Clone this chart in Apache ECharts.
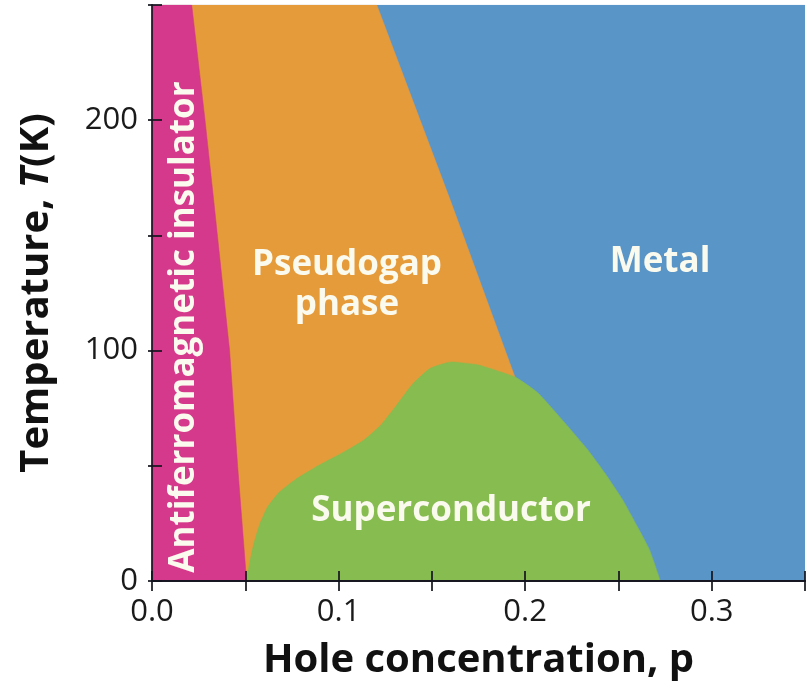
<!DOCTYPE html>
<html>
<head>
<meta charset="utf-8">
<script src="https://cdn.jsdelivr.net/npm/echarts@6/dist/echarts.min.js"></script>
<style>
html,body{margin:0;padding:0;background:#fff;}
#chart{width:808px;height:688px;}
</style>
</head>
<body>
<div id="chart"></div>
<script>
// ---- data (p = hole concentration, T in K) ----
const xTickLabels = ['0.0', '0.1', '0.2', '0.3'];
const yTickLabels = ['0', '100', '200'];

// whole plot region (metal fills everything behind)
const metalRegion = [[0, 250], [0.35, 250]];
// pseudogap / metal boundary (T* line)
const pseudogapBoundary = [[0, 250], [0.1205, 250], [0.1600, 165], [0.1925, 93], [0.2350, 0]];
// antiferromagnetic insulator boundary
const afBoundary = [[0, 250], [0.0213, 250], [0.0283, 201], [0.0331, 165], [0.0416, 100], [0.0459, 50], [0.0507, 0]];
// superconducting dome
const scDome = [
  [0.0507, 0], [0.0523, 7.8], [0.0544, 15.6], [0.0576, 24.3], [0.0619, 32.1],
  [0.0683, 38.6], [0.0773, 44.3], [0.0896, 50.3], [0.1029, 56.0], [0.1136, 61.2],
  [0.1227, 67.7], [0.1312, 76.4], [0.1397, 85.5], [0.1493, 92.4], [0.1605, 95.1],
  [0.1749, 93.8], [0.1947, 88.5], [0.2069, 81.6], [0.2213, 68.6], [0.2336, 56.9],
  [0.2427, 46.9], [0.2523, 35.2], [0.2603, 23.4], [0.2667, 13.5], [0.2725, 0]
];
const regionNames = ['Metal', 'Pseudogap phase', 'Antiferromagnetic insulator', 'Superconductor'];

// ---- styling ----
const C = { metal: '#5a95c8', pg: '#e69b3b', af: '#d5398b', sc: '#86bc50', txt: '#fbfaee' };
const axisCol = 'rgba(20,20,30,0.85)';
const tickFont = { fontFamily: 'Open Sans', fontSize: 31, color: '#1a1a1a' };

function areaSeries(name, data, color, smooth, z) {
  return {
    name: name, type: 'line', data: data, symbol: 'none', z: z,
    smooth: smooth,
    lineStyle: { width: 0.5, color: color },
    areaStyle: { color: color, opacity: 1 },
    silent: true, animation: false
  };
}

const chart = echarts.init(document.getElementById('chart'), null, { renderer: 'canvas' });

const regionFont = 'bold 35px "Open Sans"';

const option = {
  animation: false,
  grid: { left: 152, right: 0, top: 5, bottom: 107 },
  xAxis: [{
    type: 'value', min: 0, max: 0.35, interval: 0.05, z: 10,
    name: 'Hole concentration, p', nameLocation: 'middle', nameGap: 60,
    nameTextStyle: { fontFamily: 'Open Sans', fontWeight: 'bold', fontSize: 40, color: '#111' },
    axisLine: { show: true, lineStyle: { color: axisCol, width: 2 } },
    axisTick: { show: true, inside: true, length: 10, lineStyle: { color: axisCol, width: 2 } },
    axisLabel: Object.assign({
      margin: 16,
      formatter: function (v) {
        const k = Math.round(v * 100);
        return (k % 10 === 0) ? xTickLabels[k / 10] : '';
      }
    }, tickFont),
    splitLine: { show: false }
  }, {
    type: 'value', min: 0, max: 0.35, interval: 0.05, position: 'top', z: 10,
    axisLine: { show: true, lineStyle: { color: axisCol, width: 2 } },
    axisTick: { show: true, inside: true, length: 10, lineStyle: { color: axisCol, width: 2 } },
    axisLabel: { show: false }, splitLine: { show: false }
  }],
  yAxis: [{
    type: 'value', min: 0, max: 250, interval: 50, z: 10,
    name: '{n|Temperature, }{i|T}{n|(K)}', nameLocation: 'middle', nameGap: 95, nameRotate: 90,
    nameTextStyle: {
      fontFamily: 'Open Sans', fontWeight: 'bold', fontSize: 40, color: '#111',
      rich: {
        n: { fontFamily: 'Open Sans', fontWeight: 'bold', fontSize: 40, color: '#111' },
        i: { fontFamily: 'Open Sans', fontWeight: 'bold', fontStyle: 'italic', fontSize: 40, color: '#111' }
      }
    },
    axisLine: { show: true, lineStyle: { color: axisCol, width: 2 } },
    axisTick: { show: true, inside: true, length: 10, lineStyle: { color: axisCol, width: 2 } },
    axisLabel: Object.assign({
      margin: 14,
      formatter: function (v) {
        return (v % 100 === 0) ? yTickLabels[v / 100] : '';
      }
    }, tickFont),
    splitLine: { show: false }
  }, {
    type: 'value', min: 0, max: 250, interval: 50, position: 'right', z: 10,
    axisLine: { show: false },
    axisTick: { show: true, inside: true, length: 4, lineStyle: { color: axisCol, width: 2 } },
    axisLabel: { show: false }, splitLine: { show: false }
  }],
  series: [
    areaSeries(regionNames[0], metalRegion, C.metal, false, 1),
    areaSeries(regionNames[1], pseudogapBoundary, C.pg, false, 2),
    areaSeries(regionNames[2], afBoundary, C.af, false, 3),
    areaSeries(regionNames[3], scDome, C.sc, 0.15, 4)
  ],
  graphic: [
    { type: 'text', x: 660, y: 262, z: 100, silent: true,
      style: { text: regionNames[0], font: regionFont, fill: C.txt, textAlign: 'center', textVerticalAlign: 'middle' } },
    { type: 'text', x: 347, y: 285, z: 100, silent: true,
      style: { text: 'Pseudogap\nphase', font: regionFont, lineHeight: 40, fill: C.txt, textAlign: 'center', textVerticalAlign: 'middle' } },
    { type: 'text', x: 184, y: 327, rotation: Math.PI / 2, z: 100, silent: true,
      style: { text: regionNames[2], font: regionFont, fill: C.txt, textAlign: 'center', textVerticalAlign: 'middle' } },
    { type: 'text', x: 451, y: 511, z: 100, silent: true,
      style: { text: regionNames[3], font: regionFont, fill: C.txt, textAlign: 'center', textVerticalAlign: 'middle' } }
  ]
};
chart.setOption(option);
</script>
</body>
</html>
